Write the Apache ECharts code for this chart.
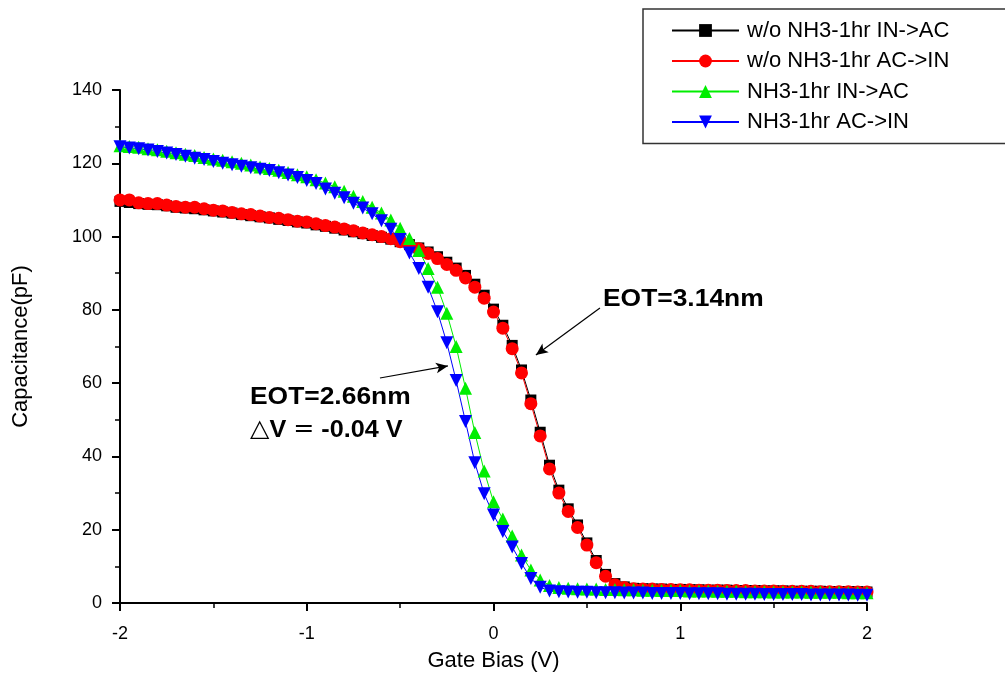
<!DOCTYPE html>
<html>
<head>
<meta charset="utf-8">
<script src="https://cdn.jsdelivr.net/npm/echarts@6/dist/echarts.min.js"></script>
<style>html,body{margin:0;padding:0;background:#fff;}#c{width:1005px;height:680px;}</style>
</head>
<body>
<div id="c"></div>
<script>
// Gate bias (V)
var biasV = [-2.00,-1.95,-1.90,-1.85,-1.80,-1.75,-1.70,-1.65,-1.60,-1.55,-1.50,-1.45,-1.40,-1.35,-1.30,-1.25,-1.20,-1.15,-1.10,-1.05,
  -1.00,-0.95,-0.90,-0.85,-0.80,-0.75,-0.70,-0.65,-0.60,-0.55,-0.50,-0.45,-0.40,-0.35,-0.30,-0.25,-0.20,-0.15,-0.10,-0.05,
  0.00,0.05,0.10,0.15,0.20,0.25,0.30,0.35,0.40,0.45,0.50,0.55,0.60,0.65,0.70,0.75,0.80,0.85,0.90,0.95,
  1.00,1.05,1.10,1.15,1.20,1.25,1.30,1.35,1.40,1.45,1.50,1.55,1.60,1.65,1.70,1.75,1.80,1.85,1.90,1.95,2.00];

// w/o NH3-1hr IN->AC (pF)
var woInAc = [109.6,109.3,109.0,108.8,108.7,108.4,108.0,107.8,107.6,107.3,107.0,106.7,106.4,106.0,105.7,105.4,105.1,104.7,104.4,104.0,
  103.7,103.2,102.8,102.3,101.8,101.3,100.8,100.3,99.8,99.3,98.6,97.8,96.9,95.8,94.5,93.0,91.4,89.4,87.0,84.0,
  80.2,75.8,70.3,63.6,55.4,46.6,37.6,30.8,25.7,21.3,16.4,11.6,7.8,5.3,4.4,
  4.0,3.9,3.8,3.8,3.7,3.7,3.6,3.6,3.5,3.5,3.5,3.4,3.4,3.4,3.3,3.3,3.3,3.2,3.2,3.2,3.2,3.1,3.1,3.1,3.1,3.0];

// w/o NH3-1hr AC->IN (pF)
var woAcIn = [110.0,110.0,109.2,109.0,109.0,108.6,108.2,108.0,108.0,107.6,107.2,107.0,106.6,106.2,106.0,105.6,105.2,105.0,104.6,104.2,
  104.0,103.5,103.0,102.6,102.1,101.6,101.0,100.5,100.0,99.4,98.6,97.6,96.7,95.4,94.0,92.4,90.8,88.7,86.2,83.2,
  79.4,75.0,69.4,62.8,54.4,45.6,36.6,30.0,25.0,20.6,15.8,11.0,7.3,5.0,4.2,
  3.9,3.8,3.8,3.7,3.7,3.6,3.6,3.5,3.5,3.5,3.4,3.4,3.4,3.3,3.3,3.3,3.2,3.2,3.2,3.2,3.1,3.1,3.1,3.1,3.0,3.0];

// NH3-1hr IN->AC (pF)
var nhInAc = [124.8,124.6,124.4,124.0,123.7,123.3,122.9,122.5,122.1,121.6,121.2,120.8,120.4,120.0,119.5,119.0,118.6,118.1,117.5,116.9,
  116.3,115.5,114.6,113.6,112.4,111.0,109.6,108.0,106.4,104.5,102.3,99.5,96.2,91.3,86.2,79.1,70.0,58.6,46.5,36.0,
  27.6,22.9,18.3,13.1,9.0,6.3,4.8,4.2,4.0,
  3.9,3.8,3.8,3.7,3.7,3.6,3.6,3.5,3.5,3.4,3.4,3.4,3.3,3.3,3.3,3.2,3.2,3.2,3.1,3.1,3.1,3.0,3.0,3.0,3.0,2.9,2.9,2.9,2.9,2.8,2.8,2.8];

// NH3-1hr AC->IN (pF)
var nhAcIn = [124.5,124.2,124.0,123.6,123.2,122.8,122.4,121.9,121.4,121.0,120.5,120.0,119.6,119.2,118.8,118.4,118.0,117.4,116.8,116.1,
  115.3,114.5,113.0,111.8,110.6,109.1,107.8,106.2,104.3,102.0,99.2,95.5,91.3,86.2,79.5,71.0,60.7,49.5,38.3,29.8,
  24.0,19.5,15.3,10.8,6.7,4.3,3.3,3.1,3.0,
  2.9,2.9,2.8,2.8,2.8,2.7,2.7,2.7,2.6,2.6,2.6,2.6,2.5,2.5,2.5,2.5,2.4,2.4,2.4,2.4,2.3,2.3,2.3,2.3,2.3,2.2,2.2,2.2,2.2,2.2,2.1,2.1];

var seriesNames = ['w/o NH3-1hr IN->AC','w/o NH3-1hr AC->IN','NH3-1hr IN->AC','NH3-1hr AC->IN'];
var xTicks = [-2,-1,0,1,2];
var yTicks = [0,20,40,60,80,100,120,140];

// annotation arrows (data coords: [V, pF])
var arrow314 = [[0.57,80.5],[0.227,67.7]];
var arrow266 = [[-0.608,61.4],[-0.244,64.7]];

function pairs(ys){ return biasV.map(function(v,i){ return [v, ys[i]]; }); }

var FONT = 'Arial, "Liberation Sans", sans-serif';
var chart = echarts.init(document.getElementById('c'), null, {renderer:'canvas'});

function mk(name, ys, color, symbol, size, rotate){
  return {
    name: name, type: 'line', data: pairs(ys),
    symbol: symbol, symbolSize: size, symbolRotate: rotate || 0,
    showAllSymbol: true,
    lineStyle: {color: color, width: 1},
    itemStyle: {color: color, borderWidth: 0},
    emphasis: {disabled: true},
    animation: false
  };
}

var s = [
  mk(seriesNames[0], woInAc, '#000000', 'rect', 11),
  mk(seriesNames[1], woAcIn, '#ff0000', 'circle', 13),
  mk(seriesNames[2], nhInAc, '#00ee00', 'triangle', 13),
  mk(seriesNames[3], nhAcIn, '#0000ff', 'triangle', 13, 180)
];
s[3].markLine = {
  silent: true, symbol: ['none','arrow'], symbolSize: [8, 12],
  label: {show: false},
  lineStyle: {color: '#000', width: 1.2, type: 'solid'},
  data: [
    [{coord: arrow314[0]}, {coord: arrow314[1]}],
    [{coord: arrow266[0]}, {coord: arrow266[1]}]
  ]
};

chart.setOption({
  backgroundColor: '#ffffff',
  animation: false,
  grid: {left: 120, right: 138, top: 90, bottom: 77, containLabel: false, outerBoundsMode: 'none'},
  legend: {
    data: seriesNames,
    orient: 'vertical',
    left: 643, top: 9,
    padding: [10, 60, 10, 28],
    itemWidth: 67, itemHeight: 16,
    itemGap: 7.5,
    borderColor: '#333', borderWidth: 1.5,
    backgroundColor: '#fff',
    textStyle: {fontFamily: FONT, fontSize: 22, color: '#000', padding: [0,0,0,3], lineHeight: 23},
    selectedMode: false
  },
  xAxis: {
    type: 'value', min: -2, max: 2, interval: 1,
    name: 'Gate Bias (V)', nameLocation: 'middle', nameGap: 47,
    nameTextStyle: {fontFamily: FONT, fontSize: 22, color: '#000'},
    axisLine: {onZero: false, lineStyle: {color: '#000', width: 2}},
    axisTick: {show: true, length: 8, lineStyle: {color: '#000', width: 2}},
    minorTick: {show: true, splitNumber: 2, length: 5, lineStyle: {color: '#000', width: 1.5}},
    splitLine: {show: false},
    axisLabel: {fontFamily: FONT, fontSize: 18, color: '#000', margin: 22,
      formatter: function(v){ return xTicks.indexOf(v) >= 0 ? String(v) : ''; }}
  },
  yAxis: {
    type: 'value', min: 0, max: 140, interval: 20,
    name: 'Capacitance(pF)', nameLocation: 'middle', nameGap: 88, nameRotate: 90,
    nameTextStyle: {fontFamily: FONT, fontSize: 22, color: '#000'},
    axisLine: {show: true, onZero: false, lineStyle: {color: '#000', width: 2}},
    axisTick: {show: true, length: 8, lineStyle: {color: '#000', width: 2}},
    minorTick: {show: true, splitNumber: 2, length: 5, lineStyle: {color: '#000', width: 1.5}},
    splitLine: {show: false},
    axisLabel: {fontFamily: FONT, fontSize: 18, color: '#000', margin: 18,
      formatter: function(v){ return yTicks.indexOf(v) >= 0 ? String(v) : ''; }}
  },
  graphic: [
    {type: 'text', x: 603, y: 287, scaleX: 1.1, z: 100,
      style: {text: 'EOT=3.14nm', font: 'bold 24px ' + FONT, fill: '#000'}},
    {type: 'text', x: 250, y: 385, scaleX: 1.1, z: 100,
      style: {text: 'EOT=2.66nm', font: 'bold 24px ' + FONT, fill: '#000'}},
    {type: 'text', x: 250, y: 418, scaleX: 1.05, z: 100,
      style: {text: '{a|△}V {a|=} -0.04 V', font: 'bold 24px ' + FONT, fill: '#000',
        rich: {a: {font: 'normal 24px "DejaVu Sans", sans-serif', fill: '#000'}}}}
  ],
  series: s
});
</script>
</body>
</html>
